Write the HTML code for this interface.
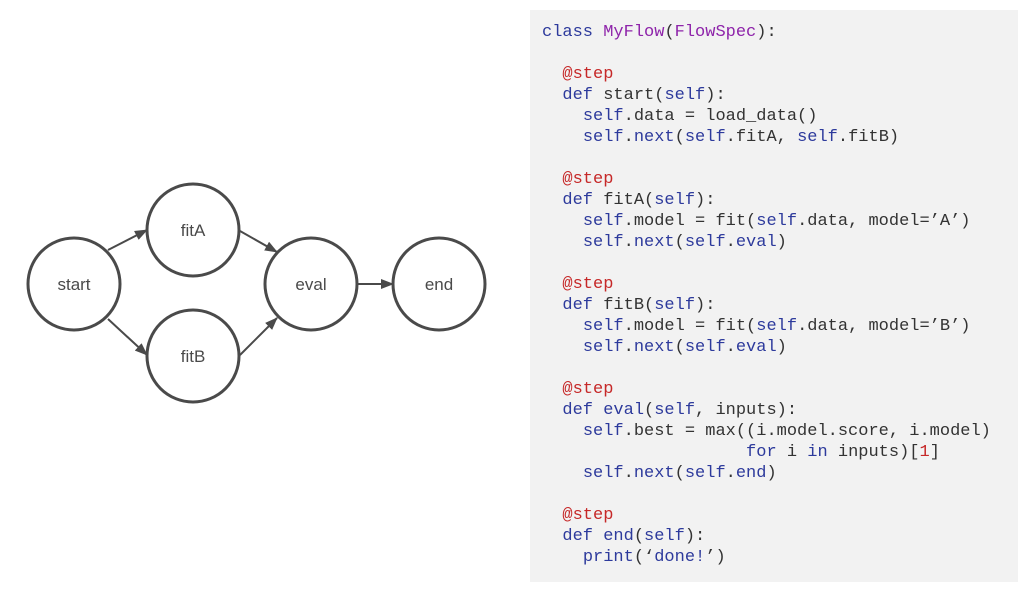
<!DOCTYPE html>
<html><head><meta charset="utf-8"><style>
body{margin:0;width:1024px;height:594px;background:#fff;position:relative;overflow:hidden}
svg{position:absolute;left:0;top:0}
.panel{position:absolute;left:530px;top:10px;width:488px;height:572px;background:#f2f2f2}
pre{position:absolute;left:542px;top:22px;margin:0;font-family:"Liberation Mono",monospace;font-size:17px;line-height:21px;color:#333}
.b{color:#2d3a9c}.p{color:#8e24aa}.r{color:#c62828}
</style></head><body>
<svg width="1024" height="594">
<defs><marker id="a" markerWidth="13" markerHeight="10" refX="12" refY="5" orient="auto" markerUnits="userSpaceOnUse"><path d="M0,0 L13,5 L0,10z" fill="#4a4a4a"/></marker></defs>
<g stroke="#4a4a4a" stroke-width="2" marker-end="url(#a)">
<line x1="108" y1="250" x2="147" y2="230"/>
<line x1="108" y1="319" x2="147" y2="355"/>
<line x1="240" y1="231" x2="277" y2="252"/>
<line x1="240" y1="355" x2="277" y2="318"/>
<line x1="358" y1="284" x2="393" y2="284"/>
</g>
<g fill="#fff" stroke="#4a4a4a" stroke-width="3">
<circle cx="74" cy="284" r="46"/><circle cx="193" cy="230" r="46"/><circle cx="193" cy="356" r="46"/><circle cx="311" cy="284" r="46"/><circle cx="439" cy="284" r="46"/>
</g>
<g font-family="Liberation Sans,sans-serif" font-size="17" fill="#4a4a4a" text-anchor="middle">
<text x="74" y="290">start</text><text x="193" y="236">fitA</text><text x="193" y="362">fitB</text><text x="311" y="290">eval</text><text x="439" y="290">end</text>
</g>
</svg>
<div class="panel"></div>
<pre><span class="b">class</span> <span class="p">MyFlow</span>(<span class="p">FlowSpec</span>):

  <span class="r">@step</span>
  <span class="b">def</span> start(<span class="b">self</span>):
    <span class="b">self</span>.data = load_data()
    <span class="b">self</span>.<span class="b">next</span>(<span class="b">self</span>.fitA, <span class="b">self</span>.fitB)

  <span class="r">@step</span>
  <span class="b">def</span> fitA(<span class="b">self</span>):
    <span class="b">self</span>.model = fit(<span class="b">self</span>.data, model=’A’)
    <span class="b">self</span>.<span class="b">next</span>(<span class="b">self</span>.<span class="b">eval</span>)

  <span class="r">@step</span>
  <span class="b">def</span> fitB(<span class="b">self</span>):
    <span class="b">self</span>.model = fit(<span class="b">self</span>.data, model=’B’)
    <span class="b">self</span>.<span class="b">next</span>(<span class="b">self</span>.<span class="b">eval</span>)

  <span class="r">@step</span>
  <span class="b">def</span> <span class="b">eval</span>(<span class="b">self</span>, inputs):
    <span class="b">self</span>.best = max((i.model.score, i.model)
                    <span class="b">for</span> i <span class="b">in</span> inputs)[<span class="r">1</span>]
    <span class="b">self</span>.<span class="b">next</span>(<span class="b">self</span>.<span class="b">end</span>)

  <span class="r">@step</span>
  <span class="b">def</span> <span class="b">end</span>(<span class="b">self</span>):
    <span class="b">print</span>(‘<span class="b">done!</span>’)</pre>
</body></html>
